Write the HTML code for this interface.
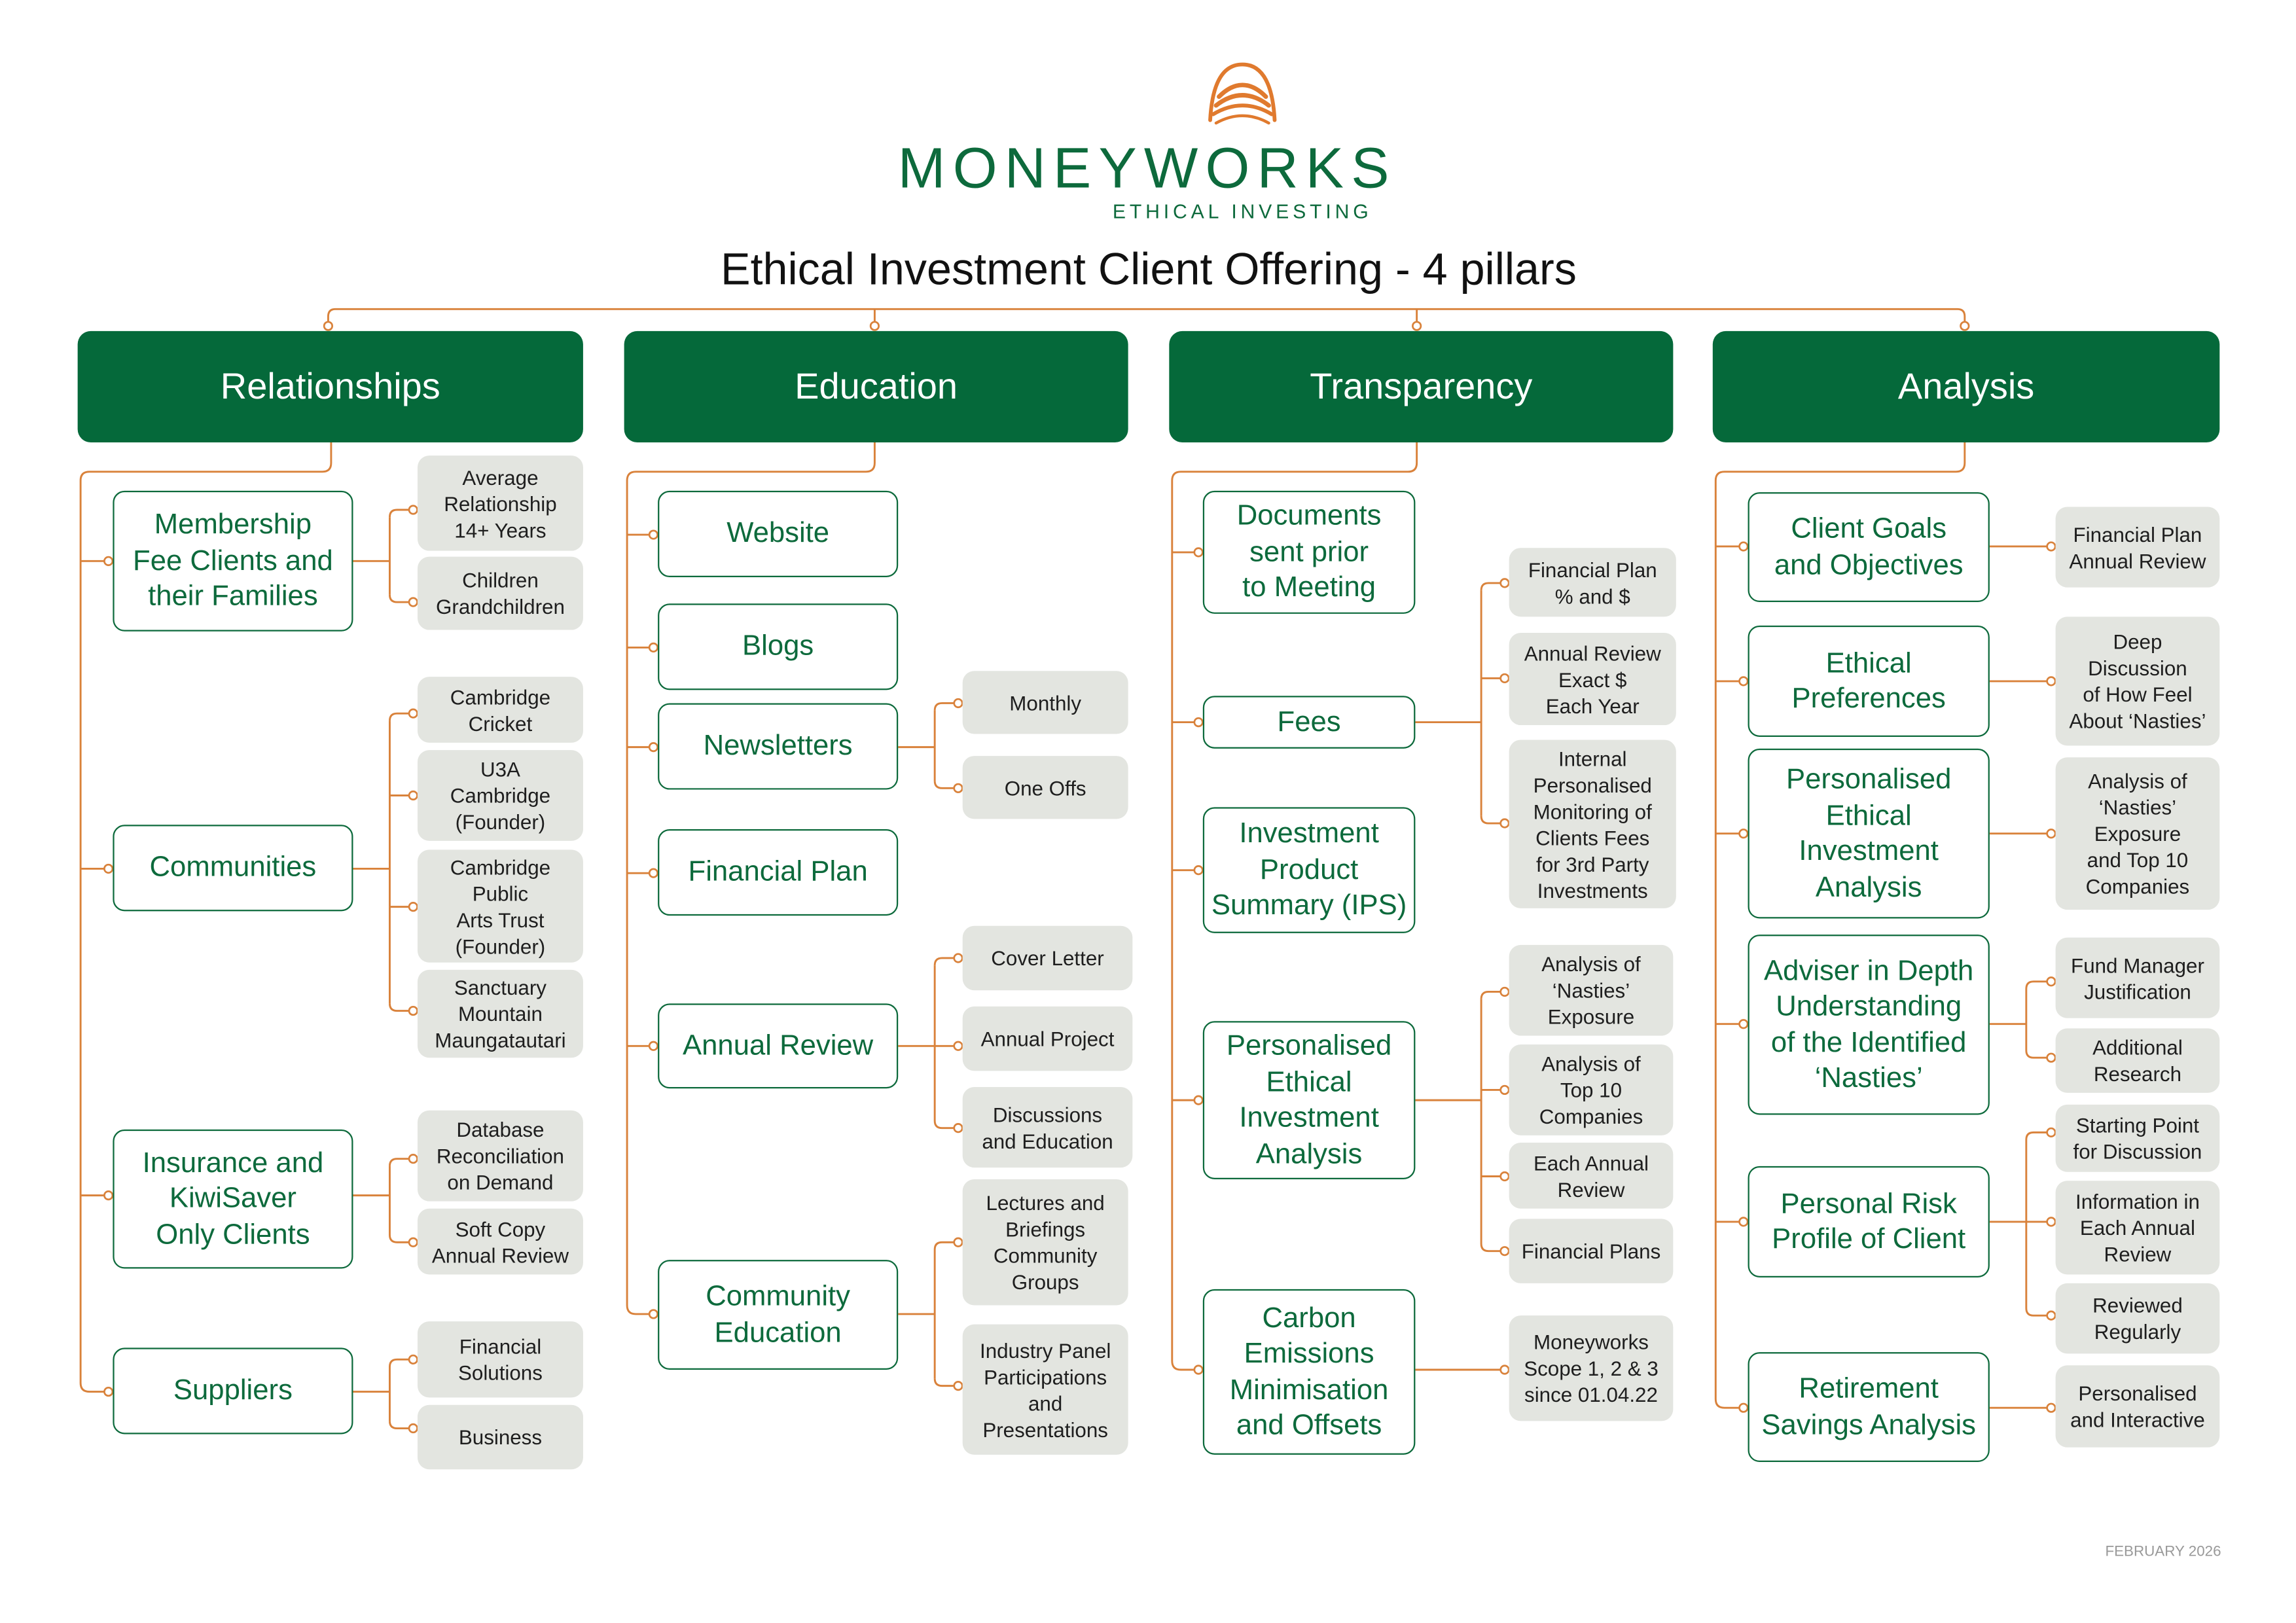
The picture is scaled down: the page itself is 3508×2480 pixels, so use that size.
<!DOCTYPE html>
<html><head><meta charset="utf-8">
<style>
html,body{margin:0;padding:0;background:#fff;}
body{width:3508px;height:2480px;overflow:hidden;position:relative;}
#c{position:absolute;left:0;top:0;width:1568px;height:1108px;transform:scale(2.2385);transform-origin:0 0;font-family:"Liberation Sans",sans-serif;}
.b{position:absolute;display:flex;align-items:center;justify-content:center;text-align:center;box-sizing:border-box;}
.p{background:#05693a;color:#fff;border-radius:9px;font-size:25px;}
.o{border:1.6px solid #0d6a3c;border-radius:8px;color:#0d6a3c;font-size:19.5px;line-height:24.5px;background:#fff;}
.g{background:#e3e5e0;border-radius:8px;color:#1e1e1e;font-size:14px;line-height:18px;}
svg{position:absolute;left:0;top:0;}
</style></head><body><div id="c">
<svg id="s" width="1568" height="1108" viewBox="0 0 1568 1108">
<g fill="none" stroke="#e07a2e" stroke-linecap="round">
<path d="M826 82 Q828 44 848 44 Q868 44 870 82" stroke-width="2.6"/>
<path d="M832 66 Q848 50 864 66" stroke-width="3"/>
<path d="M830 72 Q848 58 866 72" stroke-width="3"/>
<path d="M828 78 Q848 66 868 78" stroke-width="2.6"/>
<path d="M830 84 Q848 74 866 84" stroke-width="2"/>
</g>
<g id="ln" fill="none" stroke="#d9823b" stroke-width="1.3"></g>
<g id="dt" fill="#fff" stroke="#d9823b" stroke-width="1.2"></g>
</svg>
<div style="position:absolute;left:598px;top:94px;width:370px;text-align:center;color:#0d6a3c;font-size:39px;letter-spacing:5px;">MONEYWORKS</div>
<div style="position:absolute;left:748px;top:137px;width:200px;text-align:center;color:#0d6a3c;font-size:13.5px;letter-spacing:2.6px;">ETHICAL INVESTING</div>
<div style="position:absolute;left:380px;top:167px;width:808px;text-align:center;color:#111;font-size:30.5px;">Ethical Investment Client Offering - 4 pillars</div>
<div style="position:absolute;left:1400px;top:1054px;width:116px;text-align:right;color:#999;font-size:10px;">FEBRUARY 2026</div>

<div class="b p" style="left:53px;top:226px;width:345px;height:76px;">Relationships</div>
<div class="b p" style="left:426px;top:226px;width:344px;height:76px;">Education</div>
<div class="b p" style="left:798px;top:226px;width:344px;height:76px;">Transparency</div>
<div class="b p" style="left:1169px;top:226px;width:346px;height:76px;">Analysis</div>

<!-- col1 -->
<div class="b o" style="left:77px;top:335px;width:164px;height:96px;">Membership<br>Fee Clients and<br>their Families</div>
<div class="b o" style="left:77px;top:563px;width:164px;height:59px;">Communities</div>
<div class="b o" style="left:77px;top:771px;width:164px;height:95px;">Insurance and<br>KiwiSaver<br>Only Clients</div>
<div class="b o" style="left:77px;top:920px;width:164px;height:59px;">Suppliers</div>
<div class="b g" style="left:285px;top:311px;width:113px;height:65px;">Average<br>Relationship<br>14+ Years</div>
<div class="b g" style="left:285px;top:380px;width:113px;height:50px;">Children<br>Grandchildren</div>
<div class="b g" style="left:285px;top:462px;width:113px;height:45px;">Cambridge<br>Cricket</div>
<div class="b g" style="left:285px;top:512px;width:113px;height:62px;">U3A<br>Cambridge<br>(Founder)</div>
<div class="b g" style="left:285px;top:580px;width:113px;height:77px;">Cambridge<br>Public<br>Arts Trust<br>(Founder)</div>
<div class="b g" style="left:285px;top:662px;width:113px;height:60px;">Sanctuary<br>Mountain<br>Maungatautari</div>
<div class="b g" style="left:285px;top:758px;width:113px;height:62px;">Database<br>Reconciliation<br>on Demand</div>
<div class="b g" style="left:285px;top:825px;width:113px;height:45px;">Soft Copy<br>Annual Review</div>
<div class="b g" style="left:285px;top:902px;width:113px;height:52px;">Financial<br>Solutions</div>
<div class="b g" style="left:285px;top:959px;width:113px;height:44px;">Business</div>

<!-- col2 -->
<div class="b o" style="left:449px;top:335px;width:164px;height:59px;">Website</div>
<div class="b o" style="left:449px;top:412px;width:164px;height:59px;">Blogs</div>
<div class="b o" style="left:449px;top:480px;width:164px;height:59px;">Newsletters</div>
<div class="b o" style="left:449px;top:566px;width:164px;height:59px;">Financial Plan</div>
<div class="b o" style="left:449px;top:685px;width:164px;height:58px;">Annual Review</div>
<div class="b o" style="left:449px;top:860px;width:164px;height:75px;">Community<br>Education</div>
<div class="b g" style="left:657px;top:458px;width:113px;height:43px;">Monthly</div>
<div class="b g" style="left:657px;top:516px;width:113px;height:43px;">One Offs</div>
<div class="b g" style="left:657px;top:632px;width:116px;height:44px;">Cover Letter</div>
<div class="b g" style="left:657px;top:687px;width:116px;height:44px;">Annual Project</div>
<div class="b g" style="left:657px;top:742px;width:116px;height:55px;">Discussions<br>and Education</div>
<div class="b g" style="left:657px;top:805px;width:113px;height:86px;">Lectures and<br>Briefings<br>Community<br>Groups</div>
<div class="b g" style="left:657px;top:904px;width:113px;height:89px;">Industry Panel<br>Participations<br>and<br>Presentations</div>

<!-- col3 -->
<div class="b o" style="left:821px;top:335px;width:145px;height:84px;">Documents<br>sent prior<br>to Meeting</div>
<div class="b o" style="left:821px;top:475px;width:145px;height:36px;">Fees</div>
<div class="b o" style="left:821px;top:551px;width:145px;height:86px;">Investment<br>Product<br>Summary (IPS)</div>
<div class="b o" style="left:821px;top:697px;width:145px;height:108px;">Personalised<br>Ethical<br>Investment<br>Analysis</div>
<div class="b o" style="left:821px;top:880px;width:145px;height:113px;">Carbon<br>Emissions<br>Minimisation<br>and Offsets</div>
<div class="b g" style="left:1030px;top:374px;width:114px;height:47px;">Financial Plan<br>% and $</div>
<div class="b g" style="left:1030px;top:432px;width:114px;height:63px;">Annual Review<br>Exact $<br>Each Year</div>
<div class="b g" style="left:1030px;top:505px;width:114px;height:115px;">Internal<br>Personalised<br>Monitoring of<br>Clients Fees<br>for 3rd Party<br>Investments</div>
<div class="b g" style="left:1030px;top:645px;width:112px;height:62px;">Analysis of<br>‘Nasties’<br>Exposure</div>
<div class="b g" style="left:1030px;top:713px;width:112px;height:62px;">Analysis of<br>Top 10<br>Companies</div>
<div class="b g" style="left:1030px;top:780px;width:112px;height:45px;">Each Annual<br>Review</div>
<div class="b g" style="left:1030px;top:832px;width:112px;height:44px;">Financial Plans</div>
<div class="b g" style="left:1030px;top:898px;width:112px;height:72px;">Moneyworks<br>Scope 1, 2 &amp; 3<br>since 01.04.22</div>

<!-- col4 -->
<div class="b o" style="left:1193px;top:336px;width:165px;height:75px;">Client Goals<br>and Objectives</div>
<div class="b o" style="left:1193px;top:427px;width:165px;height:76px;">Ethical<br>Preferences</div>
<div class="b o" style="left:1193px;top:511px;width:165px;height:116px;">Personalised<br>Ethical<br>Investment<br>Analysis</div>
<div class="b o" style="left:1193px;top:638px;width:165px;height:123px;">Adviser in Depth<br>Understanding<br>of the Identified<br>‘Nasties’</div>
<div class="b o" style="left:1193px;top:796px;width:165px;height:76px;">Personal Risk<br>Profile of Client</div>
<div class="b o" style="left:1193px;top:923px;width:165px;height:75px;">Retirement<br>Savings Analysis</div>
<div class="b g" style="left:1403px;top:346px;width:112px;height:55px;">Financial Plan<br>Annual Review</div>
<div class="b g" style="left:1403px;top:421px;width:112px;height:88px;">Deep<br>Discussion<br>of How Feel<br>About ‘Nasties’</div>
<div class="b g" style="left:1403px;top:517px;width:112px;height:104px;">Analysis of<br>‘Nasties’<br>Exposure<br>and Top 10<br>Companies</div>
<div class="b g" style="left:1403px;top:640px;width:112px;height:55px;">Fund Manager<br>Justification</div>
<div class="b g" style="left:1403px;top:702px;width:112px;height:44px;">Additional<br>Research</div>
<div class="b g" style="left:1403px;top:754px;width:112px;height:46px;">Starting Point<br>for Discussion</div>
<div class="b g" style="left:1403px;top:806px;width:112px;height:64px;">Information in<br>Each Annual<br>Review</div>
<div class="b g" style="left:1403px;top:876px;width:112px;height:48px;">Reviewed<br>Regularly</div>
<div class="b g" style="left:1403px;top:932px;width:112px;height:56px;">Personalised<br>and Interactive</div>
</div>
<script>
var L=document.getElementById('ln'),D=document.getElementById('dt'),NS='http://www.w3.org/2000/svg';
function P(d){var e=document.createElementNS(NS,'path');e.setAttribute('d',d);L.appendChild(e);}
function C(x,y){var e=document.createElementNS(NS,'circle');e.setAttribute('cx',x);e.setAttribute('cy',y);e.setAttribute('r',2.8);D.appendChild(e);}
P('M224 220 V216 Q224 211 229 211 H1336 Q1341 211 1341 216 V220');
P('M597 211 V220');P('M967 211 V220');
[224,597,967,1341].forEach(function(x){C(x,222.5);});
function trunk(pc,tx,ys,bl){var n=ys.length-1,last=ys[n];
P('M'+pc+' 302 V316 Q'+pc+' 322 '+(pc-6)+' 322 H'+(tx+6)+' Q'+tx+' 322 '+tx+' 328 V'+(last-6)+' Q'+tx+' '+last+' '+(tx+6)+' '+last+' H'+(bl-3));
for(var i=0;i<n;i++)P('M'+tx+' '+ys[i]+' H'+(bl-3));
ys.forEach(function(y){C(bl-3,y);});}
function sub(xr,ym,bx,xd,ys){
if(ys.length==1){P('M'+xr+' '+ym+' H'+(xd-3));C(xd-3,ym);return;}
P('M'+xr+' '+ym+' H'+bx);var a=ys[0],z=ys[ys.length-1];
P('M'+bx+' '+(a+5)+' V'+(z-5));
ys.forEach(function(y,i){
if(i==0)P('M'+bx+' '+(y+5)+' Q'+bx+' '+y+' '+(bx+5)+' '+y+' H'+(xd-3));
else if(i==ys.length-1)P('M'+bx+' '+(y-5)+' Q'+bx+' '+y+' '+(bx+5)+' '+y+' H'+(xd-3));
else P('M'+bx+' '+y+' H'+(xd-3));
C(xd-3,y);});}
trunk(226,55,[383,593,816,950],77);
trunk(597,428,[365,442,510,596,714,897],449);
trunk(967,800,[377,493,594,751,935],821);
trunk(1341,1171,[373,465,569,699,834,961],1193);
sub(241,383,266,285,[348,411]);
sub(241,593,266,285,[487,543,619,690]);
sub(241,816,266,285,[791,848]);
sub(241,950,266,285,[928,975]);
sub(613,510,638,657,[480,538]);
sub(613,714,638,657,[654,714,770]);
sub(613,897,638,657,[848,946]);
sub(966,493,1011,1030,[398,463,562]);
sub(966,751,1011,1030,[677,744,803,854]);
sub(966,935,1011,1030,[935]);
sub(1358,373,1383,1403,[373]);
sub(1358,465,1383,1403,[465]);
sub(1358,569,1383,1403,[569]);
sub(1358,699,1383,1403,[670,722]);
sub(1358,834,1383,1403,[773,834,898]);
sub(1358,961,1383,1403,[961]);
</script>
</body></html>
